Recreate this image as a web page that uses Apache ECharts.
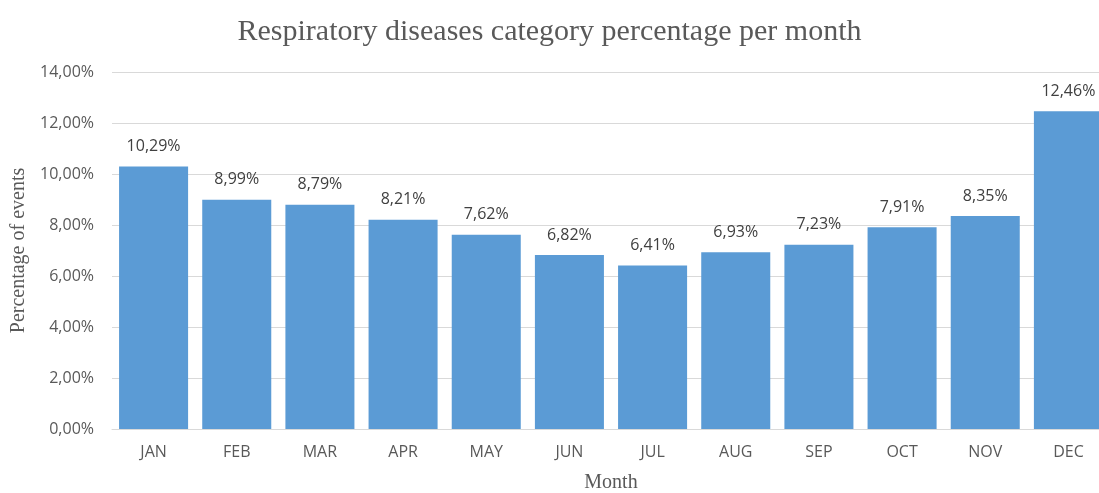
<!DOCTYPE html>
<html>
<head>
<meta charset="utf-8">
<script src="https://cdn.jsdelivr.net/npm/echarts@6/dist/echarts.min.js"></script>
<style>
  html, body { margin: 0; padding: 0; background: #fff; }
  #chart { width: 1099px; height: 493px; }
</style>
</head>
<body>
<div id="chart"></div>
<script>
// months and monthly share (%)
const months = ['JAN', 'FEB', 'MAR', 'APR', 'MAY', 'JUN', 'JUL', 'AUG', 'SEP', 'OCT', 'NOV', 'DEC'];
const percentages = [10.29, 8.99, 8.79, 8.21, 7.62, 6.82, 6.41, 6.93, 7.23, 7.91, 8.35, 12.46];

const fmt = v => v.toFixed(2).replace('.', ',') + '%';
const textColor = '#595959';
const serif = '"Liberation Serif", "DejaVu Serif", serif';
const sans = '"Open Sans", "Liberation Sans", sans-serif';

const myChart = echarts.init(document.getElementById('chart'));
const option = {
  animation: false,
  title: {
    text: 'Respiratory diseases category percentage per month',
    left: 'center',
    top: 12,
    textStyle: { fontFamily: serif, fontWeight: 'normal', fontSize: 30, color: textColor }
  },
  grid: {
    left: 112,
    top: 72,
    width: 998,
    height: 357,
    containLabel: false,
    outerBoundsMode: 'none'
  },
  xAxis: {
    type: 'category',
    data: months,
    name: 'Month',
    nameLocation: 'middle',
    nameGap: 44,
    nameTextStyle: { fontFamily: serif, fontSize: 20, color: textColor },
    axisTick: { show: false },
    axisLine: { lineStyle: { color: '#d9d9d9', width: 1 } },
    axisLabel: { fontFamily: sans, fontSize: 16, color: textColor, margin: 15 }
  },
  yAxis: {
    type: 'value',
    min: 0,
    max: 14,
    interval: 2,
    name: 'Percentage of events',
    nameLocation: 'middle',
    nameGap: 82,
    nameTextStyle: { fontFamily: serif, fontSize: 20, color: textColor },
    axisLine: { show: false },
    axisTick: { show: false },
    splitLine: { lineStyle: { color: '#d9d9d9', width: 1 } },
    axisLabel: { fontFamily: sans, fontSize: 16, color: textColor, margin: 18, formatter: v => fmt(v) }
  },
  series: [
    {
      type: 'bar',
      data: percentages,
      barCategoryGap: '17%',
      itemStyle: { color: '#5b9bd5' },
      label: {
        show: true,
        position: 'top',
        distance: 12,
        fontFamily: sans,
        fontSize: 16,
        color: '#404040',
        formatter: p => fmt(p.value)
      }
    }
  ]
};
myChart.setOption(option);
</script>
</body>
</html>
